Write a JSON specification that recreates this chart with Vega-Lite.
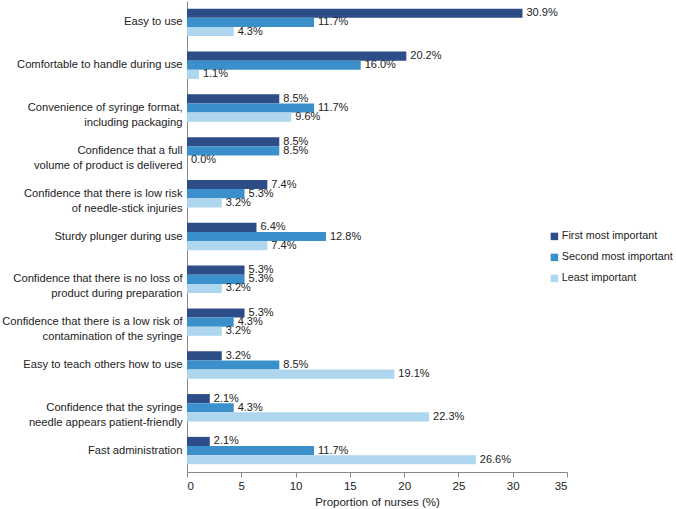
{
  "$schema": "https://vega.github.io/schema/vega-lite/v6.json",
  "width": 380,
  "height": 471,
  "autosize": {"type": "none"},
  "padding": {"left": 187, "top": 1, "right": 109, "bottom": 37},
  "config": {
    "view": {"stroke": null},
    "font": "Liberation Sans",
    "axis": {"labelFont": "Liberation Sans", "titleFont": "Liberation Sans", "labelColor": "#222", "titleColor": "#222"}
  },
  "data": {
    "values": [
      {"item": "Easy to use", "group": "First most important", "value": 30.9},
      {"item": "Easy to use", "group": "Second most important", "value": 11.7},
      {"item": "Easy to use", "group": "Least important", "value": 4.3},
      {"item": "Comfortable to handle during use", "group": "First most important", "value": 20.2},
      {"item": "Comfortable to handle during use", "group": "Second most important", "value": 16.0},
      {"item": "Comfortable to handle during use", "group": "Least important", "value": 1.1},
      {"item": "Convenience of syringe format,|including packaging", "group": "First most important", "value": 8.5},
      {"item": "Convenience of syringe format,|including packaging", "group": "Second most important", "value": 11.7},
      {"item": "Convenience of syringe format,|including packaging", "group": "Least important", "value": 9.6},
      {"item": "Confidence that a full|volume of product is delivered", "group": "First most important", "value": 8.5},
      {"item": "Confidence that a full|volume of product is delivered", "group": "Second most important", "value": 8.5},
      {"item": "Confidence that a full|volume of product is delivered", "group": "Least important", "value": 0.0},
      {"item": "Confidence that there is low risk|of needle-stick injuries", "group": "First most important", "value": 7.4},
      {"item": "Confidence that there is low risk|of needle-stick injuries", "group": "Second most important", "value": 5.3},
      {"item": "Confidence that there is low risk|of needle-stick injuries", "group": "Least important", "value": 3.2},
      {"item": "Sturdy plunger during use", "group": "First most important", "value": 6.4},
      {"item": "Sturdy plunger during use", "group": "Second most important", "value": 12.8},
      {"item": "Sturdy plunger during use", "group": "Least important", "value": 7.4},
      {"item": "Confidence that there is no loss of|product during preparation", "group": "First most important", "value": 5.3},
      {"item": "Confidence that there is no loss of|product during preparation", "group": "Second most important", "value": 5.3},
      {"item": "Confidence that there is no loss of|product during preparation", "group": "Least important", "value": 3.2},
      {"item": "Confidence that there is a low risk of|contamination of the syringe", "group": "First most important", "value": 5.3},
      {"item": "Confidence that there is a low risk of|contamination of the syringe", "group": "Second most important", "value": 4.3},
      {"item": "Confidence that there is a low risk of|contamination of the syringe", "group": "Least important", "value": 3.2},
      {"item": "Easy to teach others how to use", "group": "First most important", "value": 3.2},
      {"item": "Easy to teach others how to use", "group": "Second most important", "value": 8.5},
      {"item": "Easy to teach others how to use", "group": "Least important", "value": 19.1},
      {"item": "Confidence that the syringe|needle appears patient-friendly", "group": "First most important", "value": 2.1},
      {"item": "Confidence that the syringe|needle appears patient-friendly", "group": "Second most important", "value": 4.3},
      {"item": "Confidence that the syringe|needle appears patient-friendly", "group": "Least important", "value": 22.3},
      {"item": "Fast administration", "group": "First most important", "value": 2.1},
      {"item": "Fast administration", "group": "Second most important", "value": 11.7},
      {"item": "Fast administration", "group": "Least important", "value": 26.6}
    ]
  },
  "transform": [
    {"calculate": "format(datum.value, '.1f') + '%'", "as": "label"}
  ],
  "encoding": {
    "y": {
      "field": "item", "type": "nominal", "sort": null, "title": null,
      "scale": {"paddingInner": 0.36, "paddingOuter": 0.18},
      "axis": {"labelExpr": "split(datum.label, '|')", "ticks": false, "labelPadding": 5, "labelFontSize": 11.2, "labelLineHeight": 15, "domainColor": "#888", "labelLimit": 300}
    },
    "yOffset": {"field": "group", "type": "nominal", "sort": ["First most important", "Second most important", "Least important"]},
    "x": {
      "field": "value", "type": "quantitative",
      "scale": {"domain": [0, 35], "nice": false},
      "title": "Proportion of nurses (%)",
      "axis": {"values": [0, 5, 10, 15, 20, 25, 30, 35], "grid": false, "domainColor": "#888", "tickColor": "#888", "tickSize": 5, "labelFontSize": 11.5, "titleFontSize": 11.5, "titleFontWeight": "normal", "labelPadding": 3, "titlePadding": 5}
    }
  },
  "layer": [
    {
      "mark": {"type": "bar"},
      "encoding": {
        "color": {
          "field": "group", "type": "nominal",
          "scale": {"domain": ["First most important", "Second most important", "Least important"], "range": ["#2c4d87", "#3b90cb", "#aed6ee"]},
          "legend": {"title": null, "orient": "none", "legendX": 362, "legendY": 230, "symbolType": "square", "symbolSize": 56, "symbolStrokeWidth": 0, "labelFontSize": 10.8, "labelColor": "#222", "rowPadding": 9, "labelOffset": 2, "labelLimit": 200}
        }
      }
    },
    {
      "mark": {"type": "text", "align": "left", "baseline": "middle", "dx": 4, "fontSize": 11, "color": "#222"},
      "encoding": {
        "text": {"field": "label", "type": "nominal"}
      }
    }
  ]
}
